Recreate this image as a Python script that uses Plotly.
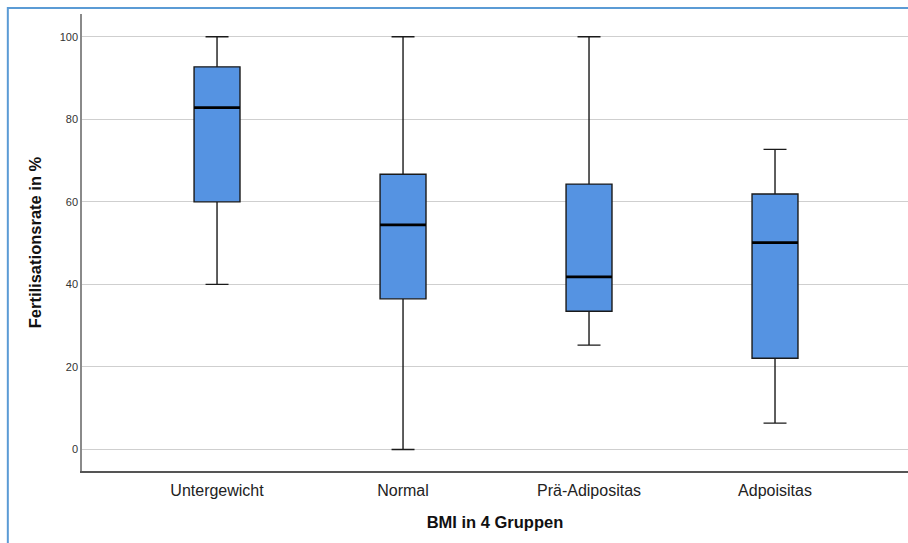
import plotly.graph_objects as go

categories = ["Untergewicht", "Normal", "Prä-Adipositas", "Adpoisitas"]
lower_whisker = [40.0, 0.0, 25.3, 6.4]
q1_values = [60.0, 36.5, 33.5, 22.1]
median_values = [82.8, 54.4, 41.8, 50.1]
q3_values = [92.7, 66.7, 64.3, 61.9]
upper_whisker = [100.0, 100.0, 100.0, 72.7]
y_ticks = [0, 20, 40, 60, 80, 100]

positions = list(range(len(categories)))
box_w = 0.247
fill = "#5593E2"
font_family = "Liberation Sans, Arial, sans-serif"

fig = go.Figure()
fig.add_trace(go.Box(
    x=positions,
    q1=q1_values, median=median_values, q3=q3_values,
    lowerfence=lower_whisker, upperfence=upper_whisker,
    width=box_w, whiskerwidth=0.5,
    fillcolor=fill,
    line=dict(color="#1a1a1a", width=1.4),
    boxpoints=False, showlegend=False, hoverinfo="skip",
))

# thicker median lines
for p, m in zip(positions, median_values):
    fig.add_trace(go.Scatter(
        x=[p - box_w / 2, p + box_w / 2], y=[m, m], mode="lines",
        line=dict(color="black", width=2.8), showlegend=False, hoverinfo="skip",
    ))

# blue frame around the whole figure
fig.add_shape(type="rect", xref="paper", yref="paper",
              x0=-0.0898, x1=1.2, y0=-0.4, y1=1.0131,
              line=dict(color="#5B9BD5", width=2), fillcolor="rgba(0,0,0,0)",
              layer="above")

fig.update_layout(
    width=908, height=543,
    margin=dict(l=82, r=0, t=14, b=72),
    paper_bgcolor="white", plot_bgcolor="white",
    font=dict(family=font_family, color="#222"),
    xaxis=dict(
        range=[-0.726, 3.715],
        tickmode="array", tickvals=positions, ticktext=categories,
        tickfont=dict(size=16, color="#222"),
        showgrid=False, zeroline=False,
        showline=True, linecolor="#555", linewidth=1.5,
        ticks="", ticklabelstandoff=4,
        title=dict(text="<b>BMI in 4 Gruppen</b>", font=dict(size=16.5, color="#111"), standoff=18),
    ),
    yaxis=dict(
        range=[-5.2, 105.5],
        tickmode="array", tickvals=y_ticks,
        tickfont=dict(size=11, color="#333"),
        showgrid=True, gridcolor="#cfcfcf", gridwidth=1,
        zeroline=False,
        showline=True, linecolor="#8a8a8a", linewidth=1.5,
        ticks="",
        title=dict(text="<b>Fertilisationsrate in %</b>", font=dict(size=16.5, color="#111"), standoff=14),
    ),
)

fig.write_html("out.html", config={"displayModeBar": False},
               post_script="document.body.style.margin='0';document.body.style.overflow='hidden';")
